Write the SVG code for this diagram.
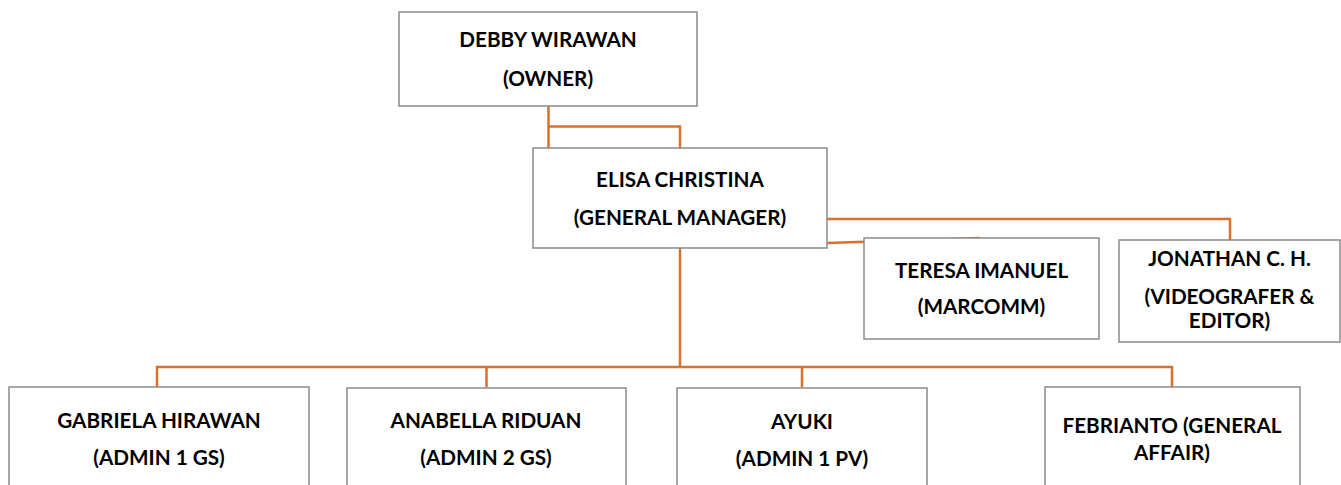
<svg xmlns="http://www.w3.org/2000/svg" width="1341" height="485" viewBox="0 0 1341 485">
<style>
.box{fill:#fff;stroke:#8a8a8a;stroke-width:1.5}
.t{font-family:Lato,"Liberation Sans",sans-serif;font-weight:bold;font-size:20.7px;fill:#000;text-anchor:middle}
.c{fill:none;stroke:#D9702E;stroke-width:2.5}
</style>
<rect width="1341" height="485" fill="#fff"/>
<g id="connectors">
<path class="c" d="M548.5,106 V148 M548.5,126.5 H680 V148"/>
<path class="c" d="M827,219 H1230 V240"/>
<path class="c" d="M827,243 L980,238"/>
<path class="c" d="M680,248 V367 M157,387 V367 H1172 V387 M486.5,367 V387 M802,367 V387"/>
</g>
<g id="owner"><rect class="box" x="399" y="12" width="298" height="94"/><text class="t" x="548" y="47">DEBBY WIRAWAN</text><text class="t" x="548" y="86">(OWNER)</text></g>
<g id="gm"><rect class="box" x="533" y="148" width="294" height="100"/><text class="t" x="680" y="187">ELISA CHRISTINA</text><text class="t" x="680" y="225">(GENERAL MANAGER)</text></g>
<g id="teresa"><rect class="box" x="864" y="238" width="235" height="101"/><text class="t" x="981.5" y="278">TERESA IMANUEL</text><text class="t" x="981.5" y="314">(MARCOMM)</text></g>
<g id="jonathan"><rect class="box" x="1119" y="240" width="221" height="102"/><text class="t" x="1229.5" y="266">JONATHAN C. H.</text><text class="t" x="1229.5" y="304">(VIDEOGRAFER &amp;</text><text class="t" x="1229.5" y="328">EDITOR)</text></g>
<g id="gabriela"><rect class="box" x="9" y="387" width="300" height="110"/><text class="t" x="159" y="428">GABRIELA HIRAWAN</text><text class="t" x="159" y="465">(ADMIN 1 GS)</text></g>
<g id="anabella"><rect class="box" x="347" y="388" width="279" height="110"/><text class="t" x="486" y="428">ANABELLA RIDUAN</text><text class="t" x="486" y="465">(ADMIN 2 GS)</text></g>
<g id="ayuki"><rect class="box" x="677" y="388" width="250" height="110"/><text class="t" x="802" y="429">AYUKI</text><text class="t" x="802" y="466">(ADMIN 1 PV)</text></g>
<g id="febrianto"><rect class="box" x="1045" y="387" width="255" height="110"/><text class="t" x="1172" y="433">FEBRIANTO (GENERAL</text><text class="t" x="1172" y="460">AFFAIR)</text></g>
</svg>
